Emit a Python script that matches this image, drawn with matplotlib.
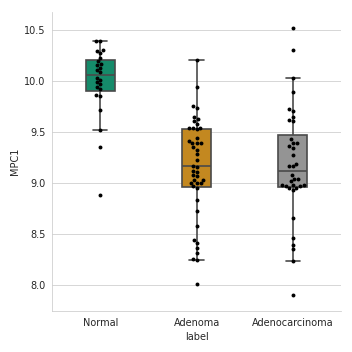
import numpy as np
import pandas as pd
import matplotlib
matplotlib.use("Agg")
import matplotlib.pyplot as plt
import seaborn as sns

groups = ["Normal", "Adenoma", "Adenocarcinoma"]

normal = [10.395, 10.395, 10.31, 10.297, 10.28, 10.232, 10.199, 10.173, 10.157,
          10.13, 10.108, 10.09, 10.036, 10.016, 9.99, 9.97, 9.944, 9.92, 9.866,
          9.86, 9.722, 9.52, 9.356, 8.88]

adenoma = [10.21, 9.94, 9.755, 9.74, 9.65, 9.63, 9.61, 9.578, 9.546, 9.546,
           9.546, 9.53, 9.44, 9.415, 9.395, 9.395, 9.395, 9.355, 9.33, 9.29,
           9.23, 9.17, 9.16, 9.12, 9.11, 9.08, 9.07, 9.03, 9.03, 9.00, 9.00,
           9.00, 8.97, 8.95, 8.84, 8.73, 8.58, 8.44, 8.41, 8.36, 8.32, 8.26,
           8.25, 8.01]

adenocarcinoma = [10.526, 10.31, 10.032, 9.899, 9.73, 9.71, 9.654, 9.624, 9.61,
                  9.434, 9.399, 9.399, 9.366, 9.346, 9.28, 9.19, 9.17, 9.17,
                  9.078, 9.046, 9.046, 9.02, 8.987, 8.987, 8.987, 8.97, 8.97,
                  8.958, 8.958, 8.938, 8.66, 8.466, 8.395, 8.356, 8.238, 7.9]

df = pd.DataFrame({
    "label": ["Normal"] * len(normal) + ["Adenoma"] * len(adenoma)
             + ["Adenocarcinoma"] * len(adenocarcinoma),
    "MPC1": normal + adenoma + adenocarcinoma,
})

cb = sns.color_palette("colorblind")
pal = {"Normal": cb[2], "Adenoma": cb[1], "Adenocarcinoma": cb[7]}

sns.set_style("whitegrid")
fig, ax = plt.subplots(figsize=(5, 5), dpi=70.4)
ax.set_position([0.148, 0.116, 0.821, 0.85])

sns.boxplot(data=df, x="label", y="MPC1", hue="label", order=groups,
            hue_order=groups, palette=pal, width=0.3, showfliers=False,
            legend=False, linecolor="#4a4a4a", linewidth=1.7, ax=ax)
sns.swarmplot(data=df, x="label", y="MPC1", order=groups, color="black",
              size=4, ax=ax)

ax.set_ylim(7.745, 10.68)
ax.set_yticks([8.0, 8.5, 9.0, 9.5, 10.0, 10.5])
sns.despine(ax=ax)

fig.savefig("out.png", dpi=70.4)
